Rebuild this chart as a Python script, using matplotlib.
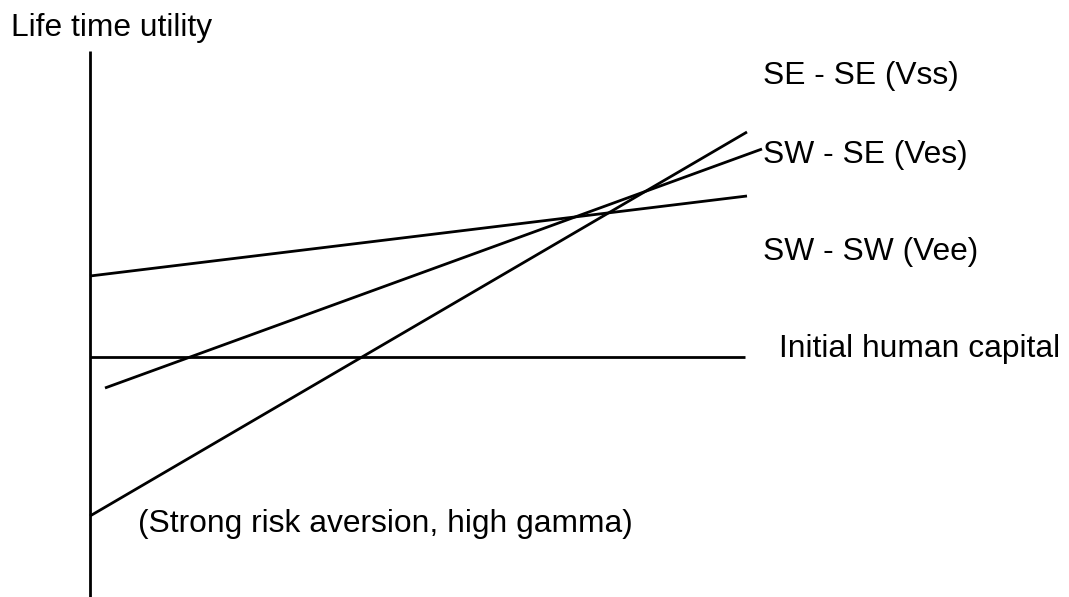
"""Life time utility diagram: value lines vs. initial human capital."""

import matplotlib
matplotlib.use("Agg")
import matplotlib.pyplot as plt

plt.rcParams["font.family"] = ["Liberation Sans", "DejaVu Sans"]

# --------------------------------------------------------------------------- #
#  Data (canvas units, x right, y down)
# --------------------------------------------------------------------------- #
axis_x = [90, 90]
axis_y = [51, 597]

capital_x = [90, 745]
capital_y = [357, 357]

vss_x = [90, 747]
vss_y = [516, 132]

ves_x = [105, 762]
ves_y = [388, 149]

vee_x = [90, 747]
vee_y = [276, 196]

labels = [
    ("Life time utility", 11, 36),
    ("SE - SE (Vss)", 763, 84),
    ("SW - SE (Ves)", 763, 163),
    ("SW - SW (Vee)", 763, 260),
    ("Initial human capital", 779, 357),
    ("(Strong risk aversion, high gamma)", 138, 532),
]

# --------------------------------------------------------------------------- #
#  Figure
# --------------------------------------------------------------------------- #
fig = plt.figure(figsize=(10.69, 5.97), dpi=100)
ax = fig.add_axes([0, 0, 1, 1])
ax.set_xlim(0, 1069)
ax.set_ylim(597, 0)
ax.axis("off")

lw = 2.0
for xs, ys in [(axis_x, axis_y), (capital_x, capital_y),
               (vss_x, vss_y), (ves_x, ves_y), (vee_x, vee_y)]:
    ax.plot(xs, ys, color="black", lw=lw, solid_capstyle="butt")

for text, x, y in labels:
    ax.text(x, y, text, fontsize=22.9, ha="left", va="baseline", color="black")

fig.savefig("out.png", dpi=100, facecolor="white")
